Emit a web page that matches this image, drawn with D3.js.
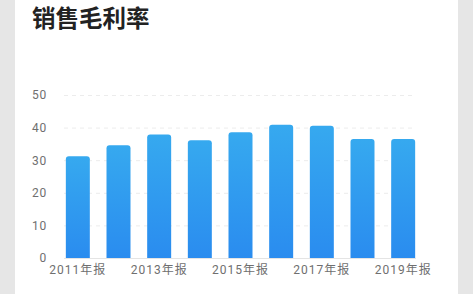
<!DOCTYPE html>
<html><head><meta charset="utf-8">
<script src="https://cdn.jsdelivr.net/npm/d3@7"></script>
<style>
html,body{margin:0;padding:0;background:#e6e6e6;}
svg{display:block;}
</style></head>
<body>
<svg id="c" width="473" height="294"></svg>
<script>
const title = "销售毛利率";
const categories = ["2011年报","2012年报","2013年报","2014年报","2015年报","2016年报","2017年报","2018年报","2019年报"];
const values = [31.2, 34.6, 37.9, 36.1, 38.6, 40.9, 40.6, 36.5, 36.5];
const yTicks = [0, 10, 20, 30, 40, 50];
const xTickLabels = ["2011年报","2013年报","2015年报","2017年报","2019年报"];

const svg = d3.select("#c");
const W = 473, H = 294;
svg.append("rect").attr("x",15).attr("y",0).attr("width",443).attr("height",H).attr("fill","#fff");

svg.append("text").attr("x",32).attr("y",27)
  .attr("font-family","'Noto Sans CJK SC', sans-serif").attr("font-weight","bold")
  .attr("font-size",23.5).attr("fill","#222").text(title);

const x = d3.scaleBand().domain(categories).range([57.5, 423.5]).paddingInner(0.41).paddingOuter(0.205);
const y = d3.scaleLinear().domain([0, 50]).range([258, 95]);

const defs = svg.append("defs");
const g = defs.append("linearGradient").attr("id","bg").attr("x1",0).attr("y1",0).attr("x2",0).attr("y2",1);
g.append("stop").attr("offset","0%").attr("stop-color","#36a9ef");
g.append("stop").attr("offset","100%").attr("stop-color","#2a8cef");

// grid
const gridX0 = 64, gridX1 = 416;
svg.append("g").selectAll("line").data(yTicks.filter(d=>d>0)).join("line")
  .attr("x1",gridX0).attr("x2",gridX1)
  .attr("y1",d=>y(d)+0.5).attr("y2",d=>y(d)+0.5)
  .attr("stroke","#ececec").attr("stroke-dasharray","4,4").attr("stroke-width",1);

// y axis labels
const yAxis = d3.axisLeft(y).tickValues(yTicks).tickSize(0).tickPadding(0);
const ya = svg.append("g").attr("transform","translate(47,0)").call(yAxis);
ya.select(".domain").remove();
ya.selectAll("text").attr("font-family","Roboto, sans-serif").attr("font-size",12)
  .attr("fill","#6f6f6f").attr("letter-spacing","0.8px");

// bars
const r = 3;
svg.append("g").selectAll("path").data(values).join("path")
  .attr("fill","url(#bg)")
  .attr("d",(d,i)=>{
    const x0 = x(categories[i]), w = x.bandwidth(), y0 = y(d), y1 = y(0);
    return `M${x0},${y1}V${y0+r}Q${x0},${y0} ${x0+r},${y0}H${x0+w-r}Q${x0+w},${y0} ${x0+w},${y0+r}V${y1}Z`;
  });

// baseline
svg.append("line").attr("x1",gridX0).attr("x2",gridX1).attr("y1",y(0)+0.5).attr("y2",y(0)+0.5)
  .attr("stroke","#e4e4e4");

// x axis labels
const xAxis = d3.axisBottom(x).tickValues(xTickLabels).tickSize(0).tickPadding(0);
const xa = svg.append("g").attr("transform",`translate(0,${y(0)+7})`).call(xAxis);
xa.select(".domain").remove();
xa.selectAll("text").attr("font-family","Roboto, 'Noto Sans CJK SC', sans-serif").attr("font-size",12)
  .attr("fill","#6f6f6f").attr("letter-spacing","1px");
</script>
</body></html>
